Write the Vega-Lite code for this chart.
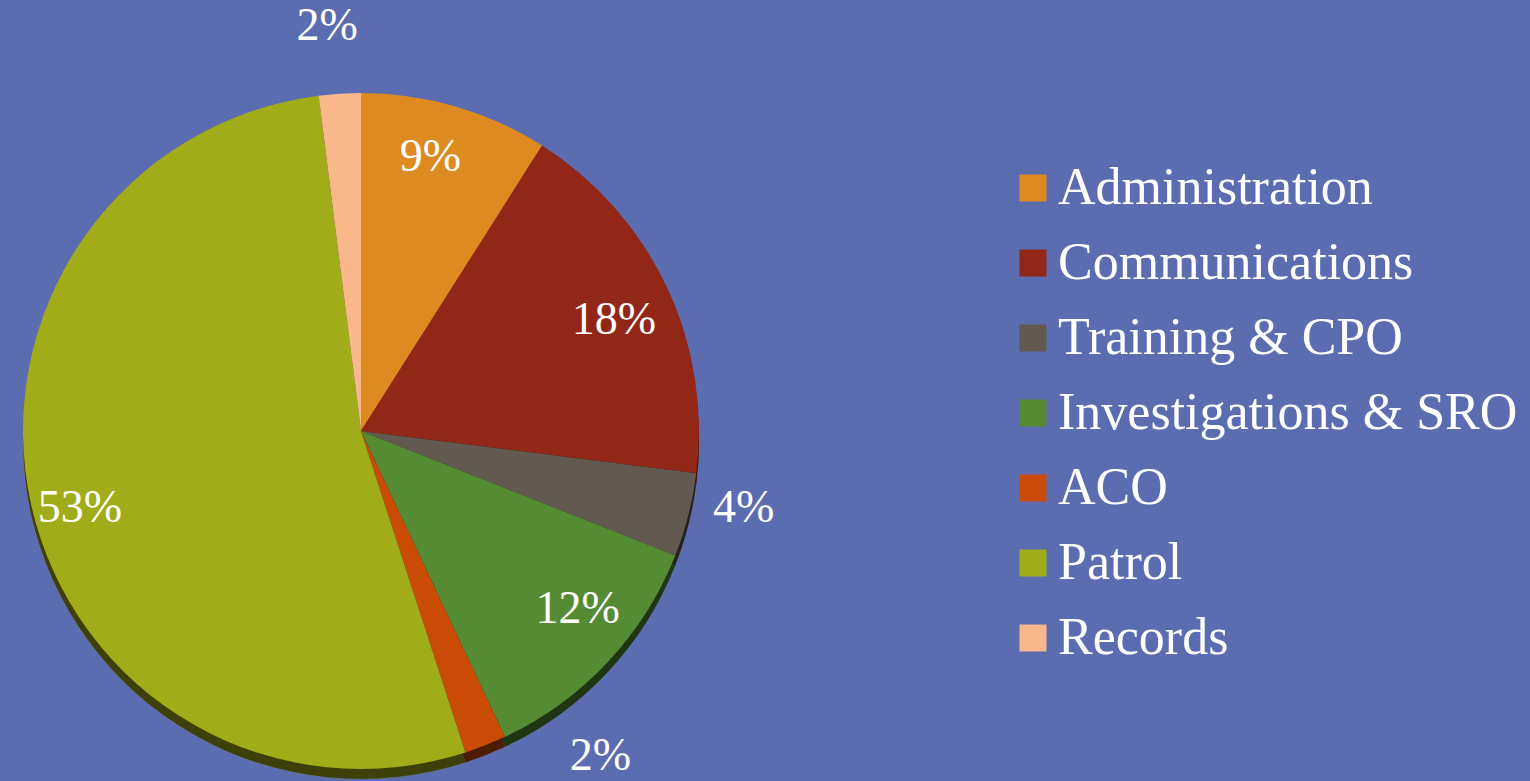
{
"$schema":"https://vega.github.io/schema/vega-lite/v6.json",
"width":700,"height":680,
"autosize":{"type":"none"},
"padding":{"left":11,"top":91,"right":819,"bottom":10},
"background":"#5B6DB0",
"view":{"stroke":null},
"data":{"values":[
{"rank":1,"dept":"Administration","share":9,"label":"9%"},
{"rank":2,"dept":"Communications","share":18,"label":"18%"},
{"rank":3,"dept":"Training & CPO","share":4,"label":"4%"},
{"rank":4,"dept":"Investigations & SRO","share":12,"label":"12%"},
{"rank":5,"dept":"ACO","share":2,"label":"2%"},
{"rank":6,"dept":"Patrol","share":53,"label":"53%"},
{"rank":7,"dept":"Records","share":2,"label":"2%"}
]},
"encoding":{
"theta":{"field":"share","type":"quantitative","stack":true},
"order":{"field":"rank","type":"ordinal"}
},
"layer":[
{"mark":{"type":"arc","radius":338,"yOffset":10},
 "encoding":{"color":{"field":"dept","type":"nominal","sort":null,
  "scale":{"domain":["Administration","Communications","Training & CPO","Investigations & SRO","ACO","Patrol","Records"],"range":["#DD8A20","#922617","#625950","#558B32","#C94B05","#A0AC18","#F8B88B"]},
  "legend":{"title":null,"orient":"none","legendX":996,"legendY":70,"symbolType":"square","symbolSize":729,"symbolOpacity":1,"symbolStrokeWidth":0,"labelFont":"Liberation Serif","labelFontSize":52,"labelColor":"#FFFFFF","labelOffset":-1,"labelLimit":600,"rowPadding":21,"clipHeight":54}}}},
{"mark":{"type":"arc","radius":338,"yOffset":10,"fill":"#000000","fillOpacity":0.62},
 "encoding":{"detail":{"field":"dept"}}},
{"mark":{"type":"arc","radius":338},
 "encoding":{"color":{"field":"dept","type":"nominal","sort":null}}},
{"mark":{"type":"text","radius":285,"xOffset":-10,"yOffset":0,"font":"Liberation Serif","fontSize":46,"fill":"#FFFFFF"},
 "encoding":{"detail":{"field":"dept"},"text":{"condition":{"test":"datum.rank===1","field":"label"},"value":""}}},
{"mark":{"type":"text","radius":285,"xOffset":-5,"yOffset":10,"font":"Liberation Serif","fontSize":46,"fill":"#FFFFFF"},
 "encoding":{"detail":{"field":"dept"},"text":{"condition":{"test":"datum.rank===2","field":"label"},"value":""}}},
{"mark":{"type":"text","radius":395,"xOffset":0,"yOffset":-21,"font":"Liberation Serif","fontSize":46,"fill":"#FFFFFF"},
 "encoding":{"detail":{"field":"dept"},"text":{"condition":{"test":"datum.rank===3","field":"label"},"value":""}}},
{"mark":{"type":"text","radius":285,"xOffset":9,"yOffset":-17,"font":"Liberation Serif","fontSize":46,"fill":"#FFFFFF"},
 "encoding":{"detail":{"field":"dept"},"text":{"condition":{"test":"datum.rank===4","field":"label"},"value":""}}},
{"mark":{"type":"text","radius":395,"xOffset":94,"yOffset":-42,"font":"Liberation Serif","fontSize":46,"fill":"#FFFFFF"},
 "encoding":{"detail":{"field":"dept"},"text":{"condition":{"test":"datum.rank===5","field":"label"},"value":""}}},
{"mark":{"type":"text","radius":285,"xOffset":-3,"yOffset":15,"font":"Liberation Serif","fontSize":46,"fill":"#FFFFFF"},
 "encoding":{"detail":{"field":"dept"},"text":{"condition":{"test":"datum.rank===6","field":"label"},"value":""}}},
{"mark":{"type":"text","radius":395,"xOffset":-9,"yOffset":-11,"font":"Liberation Serif","fontSize":46,"fill":"#FFFFFF"},
 "encoding":{"detail":{"field":"dept"},"text":{"condition":{"test":"datum.rank===7","field":"label"},"value":""}}}
],
"config":{"style":{"arc":{"stroke":null}}}
}
